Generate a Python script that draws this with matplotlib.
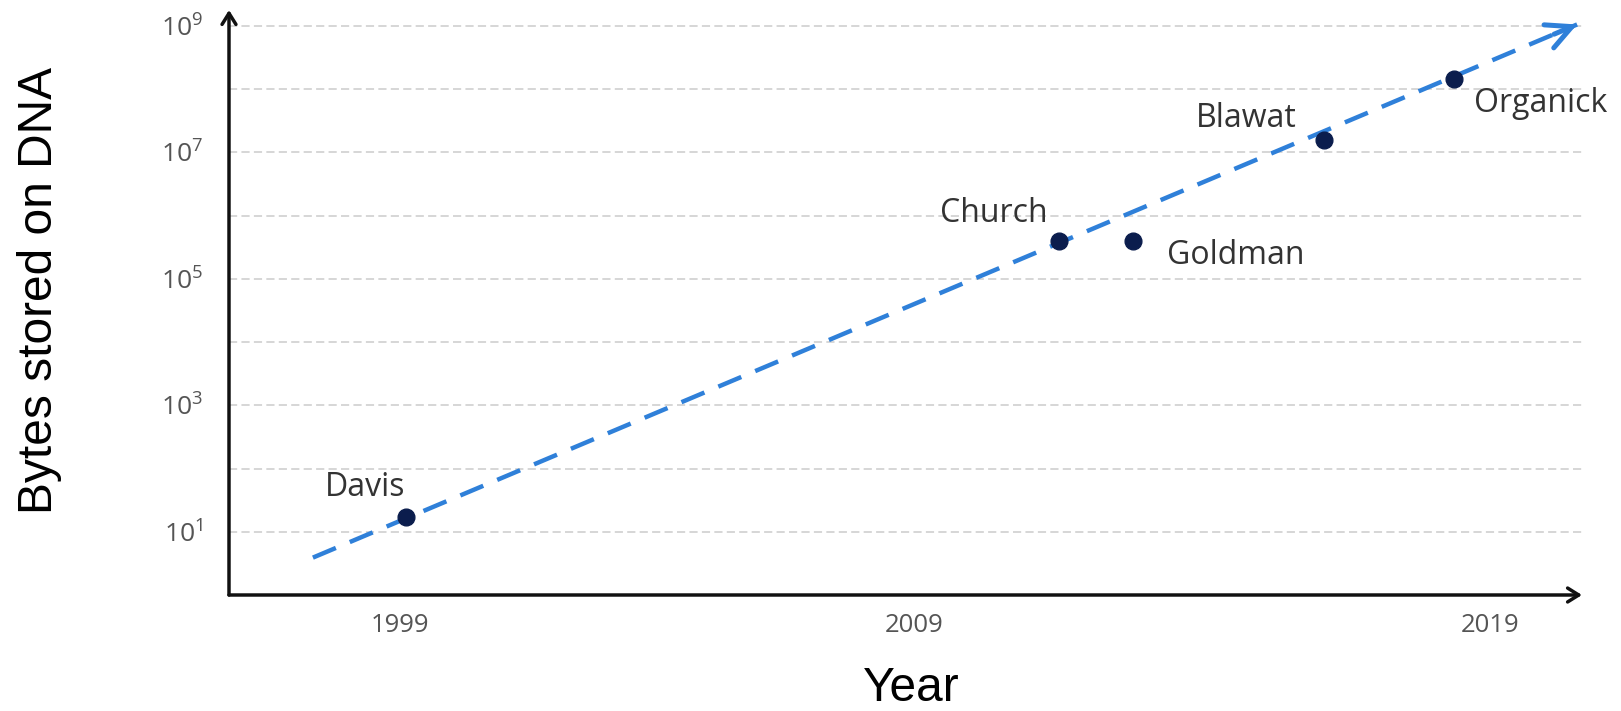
import numpy as np
import matplotlib
matplotlib.use("Agg")
import matplotlib.pyplot as plt
from matplotlib.ticker import NullLocator

# ---- data ----
names = ["Davis", "Church", "Goldman", "Blawat", "Organick"]
years = [1999.1, 2011.1, 2012.45, 2015.95, 2018.35]
bytes_stored = [17, 4.0e5, 4.0e5, 1.55e7, 1.45e8]
trend_years = [1997.4, 2020.6]
trend_bytes = [3.9, 1.05e9]
xtick_pos = [1999, 2008.43, 2019]
xtick_labels = ["1999", "2009", "2019"]
ytick_exp = [1, 2, 3, 4, 5, 6, 7, 8, 9]
# label offsets (pixels) relative to points
label_dx = [-40, -66, 103, -77, 86]
label_dy = [21, 19, -23, 13, -33]

plt.rcParams["mathtext.fontset"] = "custom"
plt.rcParams["mathtext.rm"] = "Open Sans"
plt.rcParams["mathtext.default"] = "regular"

W, H = 1621, 711
fig = plt.figure(figsize=(W / 100, H / 100), dpi=100)
ax = fig.add_axes([229 / W, 1 - 595 / H, (1582 - 229) / W, (595 - 10) / H])
ax.set_yscale("log")
ax.set_xlim(1995.86, 2020.69)
ax.set_ylim(1, 10 ** 9.25)
for s in ax.spines.values():
    s.set_visible(False)

ax.set_yticks([10.0 ** k for k in ytick_exp])
ax.set_yticklabels([r"$10^{%d}$" % k if k % 2 == 1 else "" for k in ytick_exp])
ax.yaxis.set_minor_locator(NullLocator())
ax.set_xticks(xtick_pos)
ax.set_xticklabels(xtick_labels)
ax.grid(axis="y", color="#d6d6d6", linestyle=(0, (4.2, 2.2)), linewidth=1.4)
ax.grid(axis="x", visible=False)
ax.tick_params(axis="y", length=0, pad=19, labelsize=19, labelcolor="#555555")
ax.tick_params(axis="x", length=0, pad=13, labelsize=18.5, labelcolor="#555555")
for lab in ax.get_xticklabels() + ax.get_yticklabels():
    lab.set_family("Open Sans")

# axis arrows
ap = dict(arrowstyle="->,head_length=0.8,head_width=0.5", lw=2.5, color="#111111",
          shrinkA=0, shrinkB=0)
ax.annotate("", xy=(1, 0), xytext=(0, 0), xycoords="axes fraction", arrowprops=ap,
            annotation_clip=False)
ax.annotate("", xy=(0, 1), xytext=(0, 0), xycoords="axes fraction", arrowprops=ap,
            annotation_clip=False)

# trend line
blue = "#2f80d9"
ax.plot(trend_years, trend_bytes, color=blue, lw=3.2, linestyle=(0, (5.6, 3.4)),
        dash_capstyle="butt", zorder=3)
p0 = ax.transData.transform((trend_years[0], trend_bytes[0]))
p1 = ax.transData.transform((trend_years[1], trend_bytes[1]))
d = (p1 - p0) / np.linalg.norm(p1 - p0)
ax.annotate("", xy=(trend_years[1], trend_bytes[1]), xytext=(-25 * d[0], -25 * d[1]),
            textcoords="offset pixels",
            arrowprops=dict(arrowstyle="->,head_length=0.9,head_width=0.45", lw=3.6,
                            color=blue, shrinkA=0, shrinkB=0, mutation_scale=20),
            zorder=3)

# points
ax.scatter(years, bytes_stored, s=145, color="#0b1d4d", zorder=5, clip_on=False)
for n, x, y, dx, dy in zip(names, years, bytes_stored, label_dx, label_dy):
    ax.annotate(n, xy=(x, y), xytext=(dx, dy), textcoords="offset pixels",
                ha="center", va="baseline", fontsize=23, color="#333333",
                family="Open Sans")

fig.text(40 / W, 1 - 290 / H, "Bytes stored on DNA", rotation=90, ha="center",
         va="center", fontsize=34.5, family="Liberation Sans", color="black")
fig.text(911 / W, 1 - 701 / H, "Year", ha="center", va="baseline", fontsize=34.5,
         family="Liberation Sans", color="black")

fig.savefig("out.png", dpi=100)
